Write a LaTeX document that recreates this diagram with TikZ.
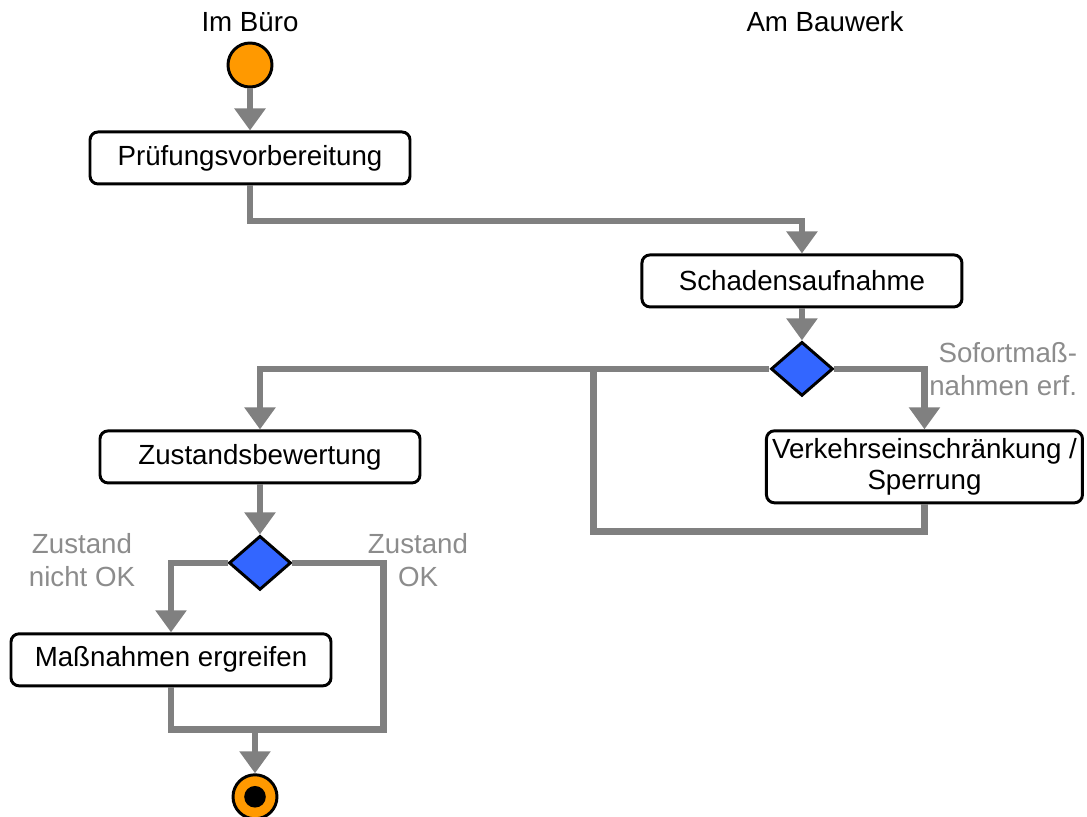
\documentclass[tikz,border=0pt]{standalone}
\usepackage{fontspec}
\setmainfont{Liberation Sans}
\usetikzlibrary{positioning, shapes.geometric, arrows.meta}

\definecolor{actorange}{HTML}{FF9900}
\definecolor{decblue}{HTML}{3366FF}
\definecolor{flowgray}{HTML}{808080}
\definecolor{lblgray}{HTML}{8C8C8C}

\tikzset{
  activity/.style={draw, line width=2.1pt, rounded corners=0.2cm, minimum width=8cm, minimum height=1.3cm, inner xsep=0.1cm, align=center, font=\fontsize{19.7}{22.7}\selectfont},
  decision/.style={diamond, draw, line width=2.1pt, fill=decblue, minimum width=1.55cm, minimum height=1.35cm, inner sep=0pt},
  startnode/.style={circle, draw, line width=2.1pt, fill=actorange, minimum size=1.1cm, inner sep=0pt},
  endnode/.style={startnode, path picture={\fill[black] (path picture bounding box.center) circle (0.27cm);}},
  lane/.style={font=\fontsize{19.7}{24}\selectfont},
  guard/.style={text=lblgray, align=center, font=\fontsize{19.7}{24}\selectfont},
  flow/.style={draw=flowgray, line width=4.6pt, -{Triangle[width=0.75cm, length=0.55cm]}},
  link/.style={draw=flowgray, line width=4.6pt},
}

\begin{document}
\begin{tikzpicture}
        \useasboundingbox (0,0) rectangle (27.175,-20.4);
        \node[startnode] (start) at (6.25,-1.625) {};
        \node[activity, below=1.05cm of start] (pruef) {Prüfungsvorbereitung};
        \node[activity, below right=1.7cm and 5.725cm of pruef] (schaden) {Schadensaufnahme};
        \node[decision, below=0.8cm of schaden] (dec1) {};
        \node[activity, minimum height=1.8cm, minimum width=7.9cm, inner xsep=0.05cm, below=0.8cm of dec1, xshift=3.0625cm] (verkehr) {Verkehrseinschränkung /\\Sperrung};
        \node[activity, below=6.1cm of pruef, xshift=0.25cm] (zustand) {Zustandsbewertung};
        \node[decision, below=1.25cm of zustand] (dec2) {};
        \node[activity, below=1.025cm of dec2, xshift=-2.225cm] (massn) {Maßnahmen ergreifen};
        \node[endnode, below=2.15cm of massn, xshift=2.1cm] (end) {};
        %---------------------------
        \node[lane] (buero) at (6.25,-0.55) {Im Büro};
        \node[lane] (bauwerk) at (20.625,-0.55) {Am Bauwerk};
        \node[guard, align=right, anchor=east] (sofort) at (27.05,-9.225) {Sofortmaß-\\nahmen erf.};
        \node[guard] (notok) at (2.05,-14.0) {Zustand\\nicht OK};
        \node[guard] (ok) at (10.45,-14.0) {Zustand\\OK};
        %---------------------------
        \coordinate (merge) at ([xshift=-4.4cm]dec1.west);
        \coordinate[above=1.1cm of end] (join);
        %---------------------------
        \draw[flow] (start) -- (pruef);
        \draw[flow] (pruef.south) -- ++(0,-0.89) -| (schaden.north);
        \draw[flow] (schaden) -- (dec1);
        \draw[flow] (dec1.west) -| (zustand.north);
        \draw[flow] (dec1.east) -| (verkehr.north);
        \draw[link] (verkehr.south) -- ++(0,-0.675) -| (merge);
        \draw[flow] (zustand) -- (dec2);
        \draw[flow] (dec2.west) -| (massn.north);
        \draw[link] (dec2.east) -- ++(2.275,0) |- (join);
        \draw[link] (massn.south) |- (join);
        \draw[flow] (join) -- (end);
\end{tikzpicture}
\end{document}
